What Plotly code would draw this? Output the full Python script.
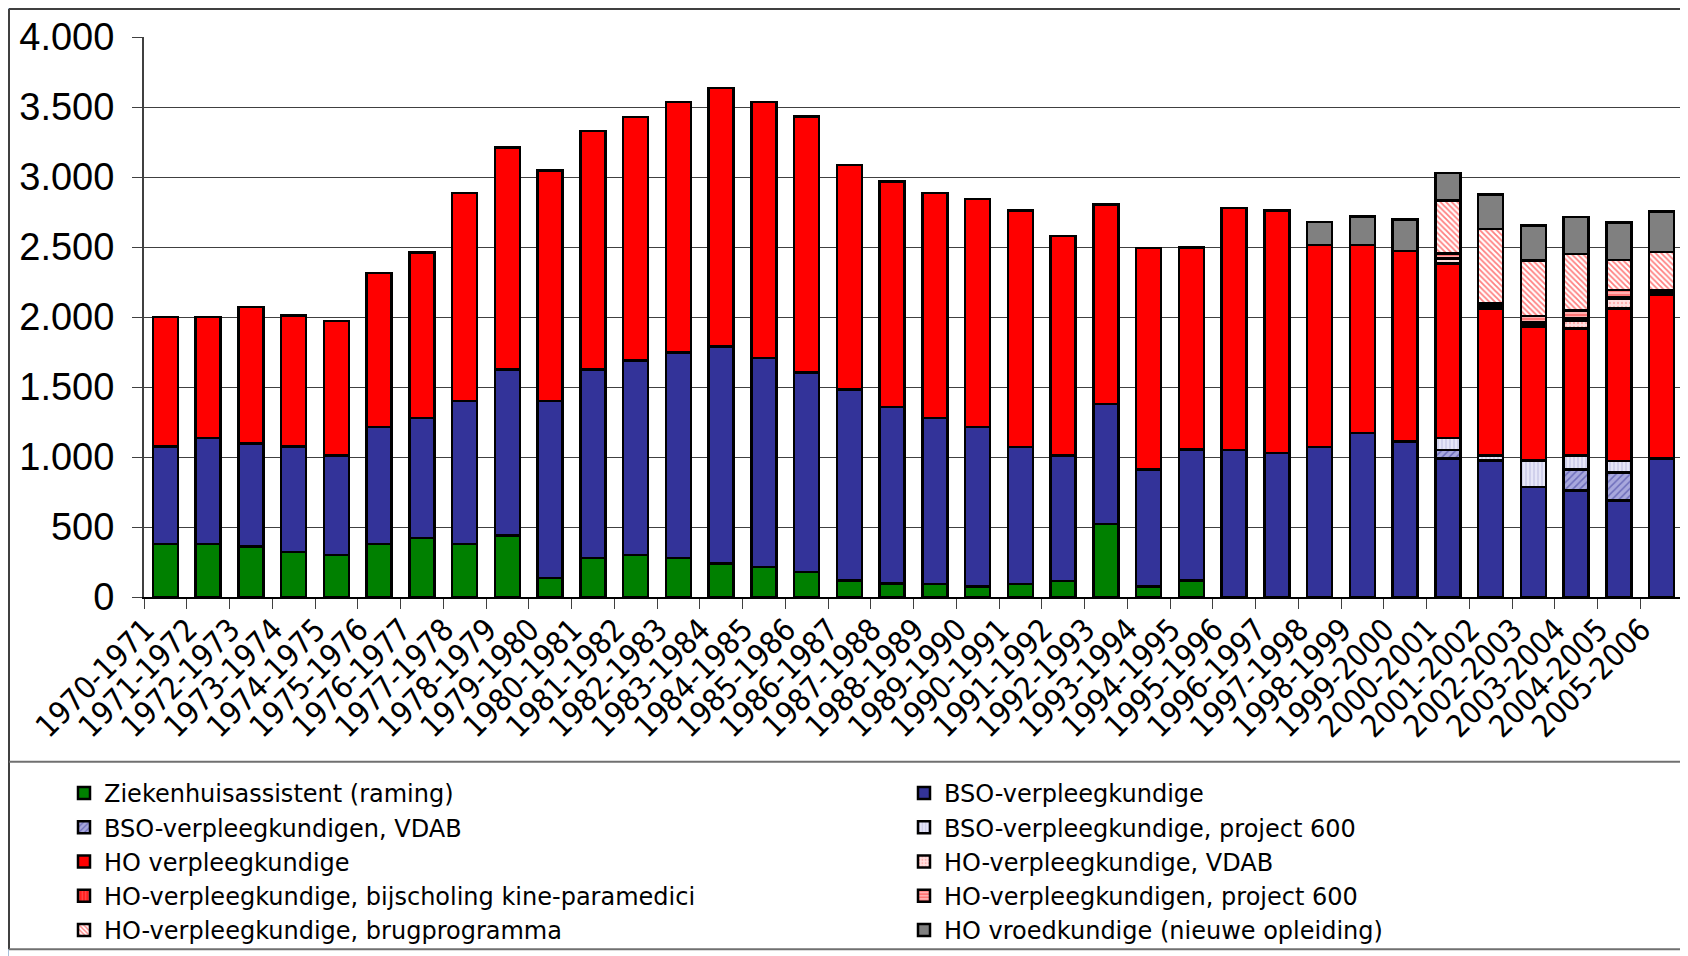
import plotly.graph_objects as go

# Data
years = ["1970-1971", "1971-1972", "1972-1973", "1973-1974", "1974-1975", "1975-1976",
         "1976-1977", "1977-1978", "1978-1979", "1979-1980", "1980-1981", "1981-1982",
         "1982-1983", "1983-1984", "1984-1985", "1985-1986", "1986-1987", "1987-1988",
         "1988-1989", "1989-1990", "1990-1991", "1991-1992", "1992-1993", "1993-1994",
         "1994-1995", "1995-1996", "1996-1997", "1997-1998", "1998-1999", "1999-2000",
         "2000-2001", "2001-2002", "2002-2003", "2003-2004", "2004-2005", "2005-2006"]

ziekenhuisassistent = [380, 380, 360, 320, 300, 380, 420, 380, 440, 137, 280, 300,
                       277, 240, 216, 179, 119, 98, 92, 74, 92, 113, 522, 74,
                       119, 0, 0, 0, 0, 0, 0, 0, 0, 0, 0, 0]
bso = [695, 755, 735, 755, 710, 835, 860, 1020, 1185, 1263, 1345, 1388,
       1469, 1548, 1490, 1424, 1363, 1260, 1187, 1139, 981, 897, 857, 836,
       936, 1050, 1028, 1073, 1173, 1112, 990, 975, 785, 762, 691, 990]
bso_vdab = [0] * 30 + [60, 0, 0, 150, 200, 0]
bso_p600 = [0] * 30 + [85, 35, 190, 100, 79, 0]
ho = [925, 865, 975, 935, 960, 1100, 1180, 1485, 1585, 1645, 1705, 1742,
      1788, 1846, 1828, 1828, 1603, 1609, 1606, 1630, 1688, 1569, 1424, 1582,
      1440, 1727, 1733, 1440, 1340, 1360, 1248, 1049, 958, 906, 1089, 1170]
ho_vdab = [0] * 30 + [30, 10, 15, 57, 70, 0]
ho_kine = [0] * 30 + [10, 10, 15, 15, 10, 10]
ho_p600 = [0] * 30 + [30, 16, 44, 57, 55, 19]
ho_brug = [0] * 30 + [380, 532, 395, 403, 213, 277]
vroed = [0] * 27 + [164, 206, 223, 197, 249, 253, 264, 267, 286]

# (name, values, colour, pattern, legend column)
series = [
    ("Ziekenhuisassistent (raming)", ziekenhuisassistent, "#008000", None, "legend"),
    ("BSO-verpleegkundige", bso, "#333399", None, "legend2"),
    ("BSO-verpleegkundigen, VDAB", bso_vdab, "#9999CC", dict(shape="/", fgcolor="#333399", bgcolor="#A8A8DD", size=5, solidity=0.3), "legend"),
    ("BSO-verpleegkundige, project 600", bso_p600, "#DDDDF5", dict(shape="|", fgcolor="#A0A0D0", bgcolor="#E6E6F8", size=4, solidity=0.3), "legend2"),
    ("HO verpleegkundige", ho, "#FF0000", None, "legend"),
    ("HO-verpleegkundige, VDAB", ho_vdab, "#FFCCCC", dict(shape=".", fgcolor="#FF8080", bgcolor="#FFE0E0", size=4, solidity=0.3), "legend2"),
    ("HO-verpleegkundige, bijscholing kine-paramedici", ho_kine, "#FF3333", dict(shape="|", fgcolor="#FF9999", bgcolor="#FF2020", size=4, solidity=0.3), "legend"),
    ("HO-verpleegkundigen, project 600", ho_p600, "#FF9999", dict(shape="-", fgcolor="#FF2020", bgcolor="#FFB0B0", size=4, solidity=0.4), "legend2"),
    ("HO-verpleegkundige, brugprogramma", ho_brug, "#FFAAAA", dict(shape="\\", fgcolor="#FF0000", bgcolor="#FFFFFF", size=4, solidity=0.45), "legend"),
    ("HO vroedkundige (nieuwe opleiding)", vroed, "#808080", None, "legend2"),
]

fig = go.Figure()
for name, vals, color, pattern, leg in series:
    marker = dict(color=color, line=dict(color="black", width=2.5))
    if pattern:
        marker["pattern"] = pattern
    fig.add_trace(go.Bar(x=years, y=vals, name=name, marker=marker, legend=leg))

# the page body has an 8px margin, so the figure starts at (8, 8) in the window
OFF = 8
W, H = 1688 - OFF, 956 - OFF
# plot area in window pixels: x 144..1683, y 37..598
L, R, T, B = 144 - OFF, 5, 37 - OFF, 358
pw, ph = W - L - R, H - T - B


def px(x):
    return (x - OFF - L) / pw


def py(y):
    return (H - B - (y - OFF)) / ph


def hline(y, color="#707070"):
    return dict(type="line", xref="paper", yref="paper",
                x0=px(9), x1=px(1684), y0=py(y), y1=py(y),
                line=dict(color=color, width=2))


def vline(x, color="#404040"):
    return dict(type="line", xref="paper", yref="paper",
                x0=px(x), x1=px(x), y0=py(9), y1=py(951),
                line=dict(color=color, width=2))


shapes = [
    # white panel
    dict(type="rect", xref="paper", yref="paper", layer="below",
         x0=px(9), x1=px(1684), y0=py(9), y1=py(970),
         fillcolor="white", line=dict(width=0)),
    hline(9, "#404040"), vline(9), vline(1684),
    hline(763), hline(951),
]

legend_style = dict(
    orientation="v", xanchor="left", yanchor="top",
    traceorder="normal",
    font=dict(family="DejaVu Sans", size=24, color="black"),
    bgcolor="rgba(0,0,0,0)",
    itemclick=False, itemdoubleclick=False,
)

fig.update_layout(
    width=W, height=H,
    margin=dict(l=L, r=R, t=T, b=B),
    barmode="stack",
    bargap=0.42,
    paper_bgcolor="#A7BFDA",
    plot_bgcolor="white",
    separators=",.",
    shapes=shapes,
    font=dict(family="DejaVu Sans", color="black"),
    legend=dict(x=px(64), y=py(771), **legend_style),
    legend2=dict(x=px(904), y=py(771), **legend_style),
)

fig.update_yaxes(
    range=[0, 4000], dtick=500, tickformat=",d",
    showgrid=True, gridcolor="#404040", gridwidth=1,
    ticks="outside", ticklen=10, tickcolor="#404040",
    showline=True, linecolor="#404040", linewidth=2,
    tickfont=dict(family="Liberation Sans, Arial, sans-serif", size=38, color="black"),
    ticklabelstandoff=10,
    zeroline=False, automargin=False,
)
fig.update_xaxes(
    tickangle=-45, tickson="boundaries",
    ticks="outside", ticklen=10, tickcolor="#404040",
    showline=True, linecolor="black", linewidth=2,
    tickfont=dict(family="DejaVu Sans Condensed, sans-serif", size=31, color="black"),
    ticklabelshift=-20,
    automargin=False,
)

fig.write_html("out.html")
